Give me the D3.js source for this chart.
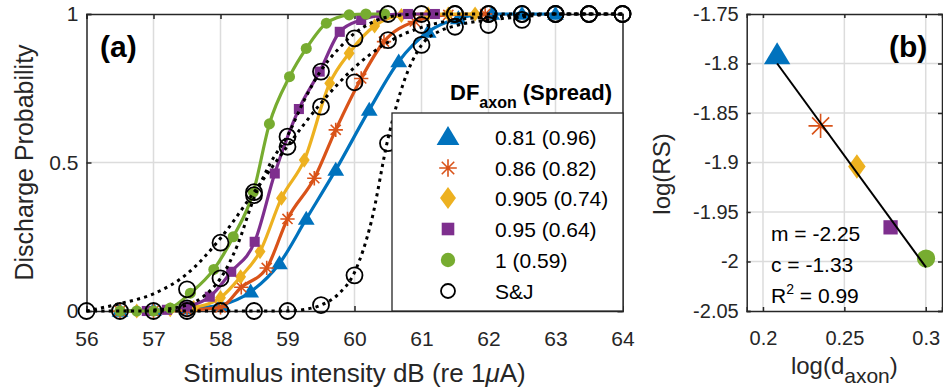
<!DOCTYPE html>
<html><head><meta charset="utf-8">
<script src="https://cdn.jsdelivr.net/npm/d3@7"></script>
<style>
html,body{margin:0;padding:0;background:#fff;}
svg{display:block;font-family:"Liberation Sans",Arial,Helvetica,sans-serif;}
</style></head><body>
<svg id="chart" width="943" height="391"></svg>
<script>
// ---------------- DATA ----------------
const seriesNames = ["0.81 (0.96)", "0.86 (0.82)", "0.905 (0.74)", "0.95 (0.64)", "1 (0.59)", "S&J"];
const seriesColors = ["#0072BD", "#D95319", "#EDB120", "#7E2F8E", "#77AC30", "#000000"];
const seriesSymbols = ["triangle", "star", "diamond", "square", "circle", "open"];

// Model curves (stimulus dB, discharge probability)
const blueX   = [56.5, 57.0, 57.5, 58.0, 58.45, 58.88, 59.28, 59.72, 60.22, 60.66, 61.1, 61.55, 62.05, 62.5, 63.0];
const blueY   = [0, 0.003, 0.008, 0.02, 0.065, 0.16, 0.31, 0.475, 0.677, 0.84, 0.94, 0.985, 1.0, 1.0, 1.0];
const redX    = [56.5, 57.0, 57.5, 58.0, 58.31, 58.69, 59.0, 59.4, 59.72, 60.1, 60.44, 60.9, 61.4, 61.95];
const redY    = [0, 0, 0.003, 0.012, 0.08, 0.145, 0.31, 0.447, 0.61, 0.783, 0.907, 0.975, 0.997, 1.0];
const yellowX = [56.75, 57.25, 57.6, 58.0, 58.3, 58.59, 58.91, 59.25, 59.63, 59.92, 60.3, 60.7, 61.1, 61.4, 61.8];
const yellowY = [0, 0.004, 0.012, 0.045, 0.115, 0.2, 0.38, 0.508, 0.767, 0.868, 0.96, 0.995, 1.0, 1.0, 1.0];
const purpleX = [56.9, 57.2, 57.5, 57.84, 58.16, 58.51, 58.81, 59.17, 59.48, 59.78, 60.1, 60.4, 60.8, 61.2];
const purpleY = [0, 0.004, 0.015, 0.048, 0.132, 0.233, 0.463, 0.68, 0.806, 0.94, 0.98, 0.995, 1.0, 1.0];
const greenX  = [56.5, 56.75, 57.0, 57.25, 57.55, 57.9, 58.19, 58.49, 58.73, 59.03, 59.28, 59.58, 59.92, 60.17, 60.45];
const greenY  = [0, 0, 0, 0.01, 0.06, 0.14, 0.25, 0.40, 0.63, 0.789, 0.884, 0.969, 0.997, 1.0, 1.0];

// S&J measured points (three data sets)
const sjAX = [57.5, 58, 58.5, 59, 59.5, 60, 60.5, 61, 61.5, 62, 62.5, 63, 63.5, 64];
const sjAY = [0.073, 0.23, 0.40, 0.553, 0.688, 0.77, 0.912, 0.963, 1, 1, 1, 1, 1, 1];
const sjBX = [57.5, 58, 58.5, 59, 59.5, 60, 60.5, 61, 61.5, 62, 62.5, 63, 63.5, 64];
const sjBY = [0.009, 0.11, 0.39, 0.587, 0.806, 0.918, 1.0, 1.0, 1, 1, 1, 1, 1, 1];
const sjCX = [56, 56.5, 57, 57.5, 58, 58.5, 59, 59.5, 60, 60.5, 61, 61.5, 62, 62.5, 63, 63.5, 64];
const sjCY = [0, 0, 0, 0, 0, 0, 0, 0.02, 0.12, 0.565, 0.896, 0.957, 0.963, 0.98, 1, 1, 1];

// S&J fitted curves (dotted)
const fitAX = [56, 56.5, 57, 57.5, 58, 58.5, 59, 59.5, 60, 60.5, 61, 61.5, 62, 62.5, 63, 63.5, 64];
const fitAY = [0.0, 0.025, 0.058, 0.125, 0.245, 0.40, 0.555, 0.70, 0.82, 0.905, 0.955, 0.98, 0.99, 0.996, 1, 1, 1];
const fitBX = [57, 57.5, 57.75, 58, 58.25, 58.5, 58.75, 59, 59.25, 59.5, 59.75, 60, 60.25, 60.5, 61, 62, 63, 64];
const fitBY = [0.003, 0.02, 0.05, 0.11, 0.22, 0.38, 0.50, 0.59, 0.71, 0.81, 0.88, 0.935, 0.97, 0.99, 1, 1, 1, 1];
const fitCX = [56, 58, 59, 59.25, 59.5, 59.75, 60, 60.25, 60.5, 60.75, 61, 61.25, 61.5, 62, 62.5, 63, 64];
const fitCY = [0, 0, 0, 0.005, 0.02, 0.055, 0.13, 0.30, 0.58, 0.78, 0.895, 0.94, 0.96, 0.98, 0.99, 1, 1];

// Panel (b)
const logDaxon = [0.2087, 0.2354, 0.2577, 0.2784, 0.3002];
const logRS    = [-1.7915, -1.863, -1.904, -1.9655, -1.997];
const fitLineX = [0.2087, 0.3002];
const fitLineY = [-1.800, -2.006];
const statsText = ["m = -2.25", "c = -1.33", "R2 = 0.99"];

const xTicksA = [56, 57, 58, 59, 60, 61, 62, 63, 64];
const yTicksA = [0, 0.5, 1];
const xTicksB = [0.2, 0.25, 0.3];
const yTicksB = [-2.05, -2, -1.95, -1.9, -1.85, -1.8, -1.75];

// ---------------- DRAW ----------------
const svg = d3.select("#chart");
const TXT = "#262626", GRID = "#dcdcdc";
const zip = (xs, ys) => xs.map((x, i) => [x, ys[i]]);

function symbolPath(type, s) {
  switch (type) {
    case "triangle": { const w = s * 0.6, t = s * 0.58; return `M0,${-t}L${w},${t*0.72}L${-w},${t*0.72}Z`; }
    case "diamond": { const w = s * 0.42, t = s * 0.58; return `M0,${-t}L${w},0L0,${t}L${-w},0Z`; }
    case "square": { const q = s * 0.42; return `M${-q},${-q}H${q}V${q}H${-q}Z`; }
    case "star": { const r = s * 0.55, d = r * 0.7071;
      return `M${-r},0H${r}M0,${-r}V${r}M${-d},${-d}L${d},${d}M${-d},${d}L${d},${-d}`; }
    default: return "";
  }
}
function drawMarker(g, type, color, x, y, s) {
  if (type === "circle") {
    g.append("circle").attr("cx", x).attr("cy", y).attr("r", s * 0.48).attr("fill", color);
  } else if (type === "open") {
    g.append("circle").attr("cx", x).attr("cy", y).attr("r", s * 0.5).attr("fill", "none")
      .attr("stroke", "#000").attr("stroke-width", 1.8);
  } else if (type === "star") {
    g.append("path").attr("d", symbolPath(type, s)).attr("transform", `translate(${x},${y})`)
      .attr("fill", "none").attr("stroke", color).attr("stroke-width", 1.6);
  } else {
    g.append("path").attr("d", symbolPath(type, s)).attr("transform", `translate(${x},${y})`)
      .attr("fill", color);
  }
}

// ---- Panel (a)
const A = {l: 86.5, r: 622.5, t: 14, b: 311};
const xA = d3.scaleLinear().domain([56, 64]).range([A.l, A.r]);
const yA = d3.scaleLinear().domain([0, 1]).range([A.b, A.t]);
const gA = svg.append("g");

gA.append("g").selectAll("line").data(xTicksA.slice(1, -1)).join("line")
  .attr("x1", d => xA(d)).attr("x2", d => xA(d)).attr("y1", A.t).attr("y2", A.b)
  .attr("stroke", GRID).attr("stroke-width", 1.5);
gA.append("g").selectAll("line").data([0.5]).join("line")
  .attr("x1", A.l).attr("x2", A.r).attr("y1", d => yA(d)).attr("y2", d => yA(d))
  .attr("stroke", GRID).attr("stroke-width", 1.5);

const axA_b = gA.append("g").attr("transform", `translate(0,${A.b})`)
  .call(d3.axisBottom(xA).tickValues(xTicksA).tickSize(-5).tickPadding(20).tickFormat(d3.format("d")));
const axA_t = gA.append("g").attr("transform", `translate(0,${A.t})`)
  .call(d3.axisTop(xA).tickValues(xTicksA).tickSize(-5).tickFormat(""));
const axA_l = gA.append("g").attr("transform", `translate(${A.l},0)`)
  .call(d3.axisLeft(yA).tickValues(yTicksA).tickSize(-5).tickPadding(8).tickFormat(d => d === 0.5 ? "0.5" : d3.format("d")(d)));
const axA_r = gA.append("g").attr("transform", `translate(${A.r},0)`)
  .call(d3.axisRight(yA).tickValues(yTicksA).tickSize(-5).tickFormat(""));
[axA_b, axA_t, axA_l, axA_r].forEach(a => {
  a.select(".domain").attr("stroke", TXT).attr("stroke-width", 1.5);
  a.selectAll(".tick line").attr("stroke", TXT).attr("stroke-width", 1.5);
  a.selectAll(".tick text").attr("fill", TXT).style("font-size", "21px").style("font-family", "inherit");
});

const lineA = d3.line().x(d => xA(d[0])).y(d => yA(d[1])).curve(d3.curveMonotoneX);
const model = [
  {x: blueX, y: blueY, c: seriesColors[0], s: seriesSymbols[0], size: 14},
  {x: redX, y: redY, c: seriesColors[1], s: seriesSymbols[1], size: 13},
  {x: yellowX, y: yellowY, c: seriesColors[2], s: seriesSymbols[2], size: 13},
  {x: purpleX, y: purpleY, c: seriesColors[3], s: seriesSymbols[3], size: 12},
  {x: greenX, y: greenY, c: seriesColors[4], s: seriesSymbols[4], size: 11.5}
];
const plotA = gA.append("g");
model.forEach(m => {
  const pts = zip(m.x, m.y);
  plotA.append("path").attr("d", lineA(pts)).attr("fill", "none").attr("stroke", m.c).attr("stroke-width", 3.2);
  const mg = plotA.append("g");
  pts.forEach(p => drawMarker(mg, m.s, m.c, xA(p[0]), yA(p[1]), m.size));
});
[[fitAX, fitAY], [fitBX, fitBY], [fitCX, fitCY]].forEach(f => {
  plotA.append("path").attr("d", lineA(zip(f[0], f[1]))).attr("fill", "none")
    .attr("stroke", "#000").attr("stroke-width", 3).attr("stroke-dasharray", "3.2 4.2");
});
[[sjAX, sjAY], [sjBX, sjBY], [sjCX, sjCY]].forEach(f => {
  const mg = plotA.append("g");
  zip(f[0], f[1]).forEach(p => drawMarker(mg, "open", "#000", xA(p[0]), yA(p[1]), 16));
});

gA.append("text").attr("x", 100).attr("y", 57).attr("font-weight", "bold").attr("font-size", 30)
  .attr("fill", "#000").text("(a)");

// legend
const L = {x: 392, y: 113, w: 231, h: 198};
const lg = svg.append("g");
lg.append("rect").attr("x", L.x).attr("y", L.y).attr("width", L.w).attr("height", L.h)
  .attr("fill", "#fff").attr("stroke", TXT).attr("stroke-width", 1.3);
const legRowY = [137, 168, 198, 229, 260, 291];
const legMarkSize = [19, 16, 19, 15, 15, 14];
seriesNames.forEach((n, i) => {
  drawMarker(lg, seriesSymbols[i], seriesColors[i], 448, legRowY[i], legMarkSize[i]);
  lg.append("text").attr("x", 495).attr("y", legRowY[i] + 7.5).attr("font-size", 21).attr("fill", "#000").text(n);
});
const lt = svg.append("text").attr("x", 450).attr("y", 100).attr("font-weight", "bold").attr("fill", "#000").attr("font-size", 22);
lt.append("tspan").text("DF");
lt.append("tspan").attr("font-size", 16).attr("dy", 8).text("axon");
lt.append("tspan").attr("dy", -8).text(" (Spread)");

svg.append("text").attr("x", (A.l + A.r) / 2).attr("y", 382).attr("text-anchor", "middle")
  .attr("font-size", 26).attr("fill", TXT)
  .html('Stimulus intensity dB (re 1<tspan font-style="italic">μ</tspan>A)');
svg.append("text").attr("transform", `translate(33,${(A.t + A.b) / 2}) rotate(-90)`).attr("text-anchor", "middle")
  .attr("font-size", 25).attr("fill", TXT).text("Discharge Probability");

// ---- Panel (b)
const B = {l: 746.7, r: 942, t: 14, b: 311};
const xB = d3.scaleLinear().domain([0.19, 0.31]).range([B.l, B.r]);
const yB = d3.scaleLinear().domain([-2.05, -1.75]).range([B.b, B.t]);
const gB = svg.append("g");
gB.append("g").selectAll("line").data(xTicksB).join("line")
  .attr("x1", d => xB(d)).attr("x2", d => xB(d)).attr("y1", B.t).attr("y2", B.b)
  .attr("stroke", GRID).attr("stroke-width", 1.5);
gB.append("g").selectAll("line").data(yTicksB.slice(1, -1)).join("line")
  .attr("x1", B.l).attr("x2", B.r).attr("y1", d => yB(d)).attr("y2", d => yB(d))
  .attr("stroke", GRID).attr("stroke-width", 1.5);
const fmtB = d => String(+d.toFixed(2));
const axB_b = gB.append("g").attr("transform", `translate(0,${B.b})`)
  .call(d3.axisBottom(xB).tickValues(xTicksB).tickSize(-4).tickPadding(20).tickFormat(fmtB));
const axB_t = gB.append("g").attr("transform", `translate(0,${B.t})`)
  .call(d3.axisTop(xB).tickValues(xTicksB).tickSize(-4).tickFormat(""));
const axB_l = gB.append("g").attr("transform", `translate(${B.l},0)`)
  .call(d3.axisLeft(yB).tickValues(yTicksB).tickSize(-4).tickPadding(8).tickFormat(fmtB));
const axB_r = gB.append("g").attr("transform", `translate(${B.r},0)`)
  .call(d3.axisRight(yB).tickValues(yTicksB).tickSize(-4).tickFormat(""));
[axB_b, axB_t, axB_l, axB_r].forEach(a => {
  a.select(".domain").attr("stroke", TXT).attr("stroke-width", 1.5);
  a.selectAll(".tick line").attr("stroke", TXT).attr("stroke-width", 1.5);
  a.selectAll(".tick text").attr("fill", TXT).style("font-size", "20px").style("font-family", "inherit");
});
const bSizes = [22, 22, 21, 17, 19];
logDaxon.forEach((x, i) => drawMarker(gB, seriesSymbols[i], seriesColors[i], xB(x), yB(logRS[i]), bSizes[i]));
gB.append("path").attr("d", d3.line().x(d => xB(d[0])).y(d => yB(d[1]))(zip(fitLineX, fitLineY)))
  .attr("stroke", "#000").attr("stroke-width", 2).attr("fill", "none");

gB.append("text").attr("x", 889).attr("y", 57).attr("font-weight", "bold").attr("font-size", 30).attr("fill", "#000").text("(b)");
const st = gB.append("g").attr("font-size", 21).attr("fill", "#000");
st.append("text").attr("x", 771).attr("y", 241).text(statsText[0]);
st.append("text").attr("x", 771).attr("y", 272).text(statsText[1]);
const r2 = st.append("text").attr("x", 771).attr("y", 303);
r2.append("tspan").text("R");
r2.append("tspan").attr("font-size", 14).attr("dy", -9).text("2");
r2.append("tspan").attr("dy", 9).text(statsText[2].slice(2));

const xl = svg.append("text").attr("x", (B.l + B.r) / 2).attr("y", 374).attr("text-anchor", "middle")
  .attr("font-size", 24).attr("fill", TXT);
xl.append("tspan").text("log(d");
xl.append("tspan").attr("font-size", 21).attr("dy", 9).text("axon");
xl.append("tspan").attr("dy", -9).text(")");
svg.append("text").attr("transform", `translate(670,174) rotate(-90)`).attr("text-anchor", "middle")
  .attr("font-size", 24).attr("fill", TXT).text("log(RS)");
</script></body></html>
